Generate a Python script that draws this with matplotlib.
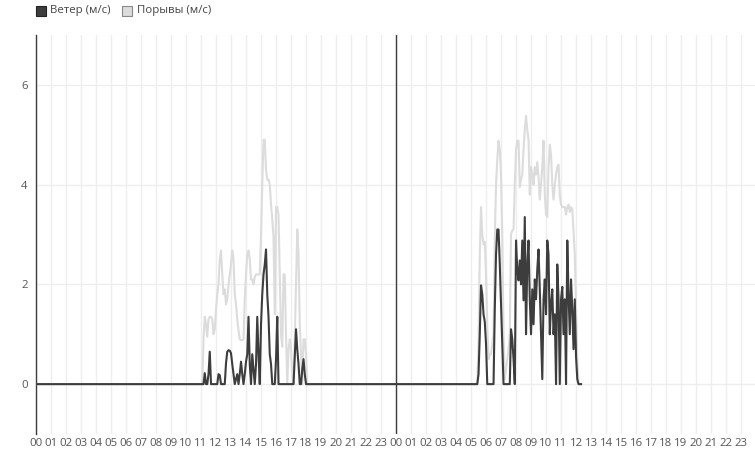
import numpy as np
import matplotlib
matplotlib.use("Agg")
import matplotlib.pyplot as plt
from matplotlib.patches import Rectangle

plt.rcParams['font.family'] = ['Open Sans', 'DejaVu Sans']

# 5-минутные отсчёты: день 1 с 11:00, день 2 с 05:20
day1_start = 11.0
wind_day1 = [0, 0, 0, 0.22, 0, 0, 0.2, 0.65, 0, 0,
             0, 0, 0, 0, 0.2, 0.18, 0, 0, 0, 0,
             0.42, 0.65, 0.68, 0.67, 0.62, 0.4, 0.2, 0, 0.1, 0.2,
             0, 0.2, 0.45, 0.2, 0, 0.2, 0.45, 0.6, 1.35, 0.4,
             0, 0.6, 0.3, 0, 0.4, 1.35, 0.6, 0, 1.2, 1.8,
             2.2, 2.4, 2.7, 1.8, 1.35, 0.6, 0.4, 0, 0, 0,
             0.5, 1.35, 0, 0, 0, 0, 0, 0, 0, 0,
             0, 0, 0, 0, 0, 0.55, 1.1, 0.7, 0.4, 0,
             0, 0.3, 0.5, 0.2, 0, 0, 0]
gust_day1 = [0, 0, 0.9, 1.35, 1.2, 0.95, 1.3, 1.35, 1.35, 1.3,
             1.0, 1.1, 1.5, 1.8, 2.0, 2.5, 2.68, 2.2, 1.8, 1.9,
             1.6, 1.7, 2.0, 2.2, 2.4, 2.68, 2.5, 1.8, 1.6, 1.3,
             1.08, 0.9, 0.88, 0.88, 0.9, 1.7, 2.2, 2.6, 2.68, 2.5,
             2.1, 2.1, 2.0, 2.15, 2.2, 2.2, 2.2, 2.2, 3.0, 4.0,
             4.9, 4.9, 4.3, 4.1, 4.1, 4.0, 3.6, 3.3, 2.95, 1.4,
             3.55, 3.55, 3.4, 2.2, 1.0, 0.75, 2.2, 2.2, 1.0, 0,
             0.7, 0.9, 0.7, 0.2, 0, 0.9, 2.0, 3.1, 2.6, 1.2,
             0.6, 0, 0.9, 0.9, 0.6, 0, 0]

day2_start = 5 + 20 / 60
wind_day2 = [0, 0, 0.2, 1.0, 1.98, 1.8, 1.4, 1.25, 0.8, 0,
             0, 0, 0, 0, 0, 1.5, 2.6, 3.1, 3.1, 2.4,
             1.6, 0.8, 0, 0, 0, 0, 0, 0, 1.1, 0.9,
             0.5, 0, 2.88, 2.3, 2.08, 2.48, 2.0, 2.88, 1.68, 3.35,
             1.0, 2.4, 2.88, 1.7, 1.0, 1.9, 1.2, 2.1, 1.7, 2.3,
             2.7, 1.9, 1.0, 0.1, 1.7, 2.1, 1.4, 2.88, 2.6, 1.0,
             1.6, 1.9, 1.0, 1.4, 0, 2.4, 1.7, 0, 1.7, 1.95,
             1.0, 1.7, 0, 2.88, 1.8, 1.0, 2.1, 1.5, 0.7, 1.7,
             0.55, 0.1, 0, 0, 0]
gust_day2 = [0, 0, 0.8, 2.6, 3.55, 3.0, 2.8, 2.85, 2.2, 1.2,
             0.5, 0.6, 0.6, 0.8, 1.0, 2.9, 4.0, 4.5, 4.88, 4.7,
             4.2, 3.0, 1.0, 0.1, 0.3, 0.5, 0.7, 1.0, 3.0, 3.08,
             3.1, 4.0, 4.7, 4.88, 4.88, 3.95, 4.1, 4.2, 4.7, 5.1,
             5.38, 5.1, 4.9, 3.8, 4.35, 4.2, 4.0, 4.35, 4.2, 4.45,
             4.15, 3.7, 4.0, 4.35, 4.88, 3.8, 3.4, 3.35, 4.35, 4.8,
             4.6, 4.0, 3.7, 4.0, 4.2, 4.35, 4.4, 3.8, 3.6, 3.55,
             3.55, 3.55, 3.4, 3.55, 3.6, 3.45, 3.55, 3.5, 3.07, 2.6,
             1.5, 0.5, 0, 0, 0]

hour_labels = [f"{h:02d}" for h in range(24)] * 2

dark = '#3d3d3d'
light = '#dcdcdc'
step = 5 / 60

t1 = day1_start + step * np.arange(len(wind_day1))
t2 = 24 + day2_start + step * np.arange(len(wind_day2))
t = np.concatenate([[0], t1, t2])
wind = np.concatenate([[0], wind_day1, wind_day2])
gust = np.concatenate([[0], gust_day1, gust_day2])

fig = plt.figure(figsize=(7.55, 4.51), dpi=100)
ax = fig.add_axes([36 / 755, 17 / 451, 719 / 755, 399 / 451])

ax.plot(t, gust, color=light, lw=1.5, zorder=3)
ax.plot(t, wind, color=dark, lw=1.5, zorder=4)
ax.axvline(24, color=dark, lw=1, zorder=5)

ax.set_xlim(0, 47.93)
ax.set_ylim(-1, 7)
ax.set_xticks(range(48))
ax.set_xticklabels(hour_labels)
ax.set_yticks([0, 2, 4, 6])
ax.grid(True, color='#eeeeee', lw=1, zorder=0)
ax.tick_params(length=0, labelsize=8.2, colors='#555555')
ax.tick_params(axis='x', pad=3)
ax.tick_params(axis='y', pad=6)
for s in ['top', 'right', 'bottom']:
    ax.spines[s].set_visible(False)
ax.spines['left'].set_color(dark)
ax.spines['left'].set_linewidth(1)

# легенда
W, H = 755, 451
fig.add_artist(Rectangle((36 / W, (H - 16) / H), 10 / W, 10 / H, transform=fig.transFigure,
                         facecolor=dark, edgecolor='#222222', lw=0.8))
fig.text(50 / W, (H - 11) / H, "Ветер (м/с)", fontsize=8.2, color='#444444', va='center')
fig.add_artist(Rectangle((122 / W, (H - 16) / H), 10 / W, 10 / H, transform=fig.transFigure,
                         facecolor=light, edgecolor='#888888', lw=0.8))
fig.text(137 / W, (H - 11) / H, "Порывы (м/с)", fontsize=8.2, color='#444444', va='center')

fig.savefig("out.png", dpi=100)
